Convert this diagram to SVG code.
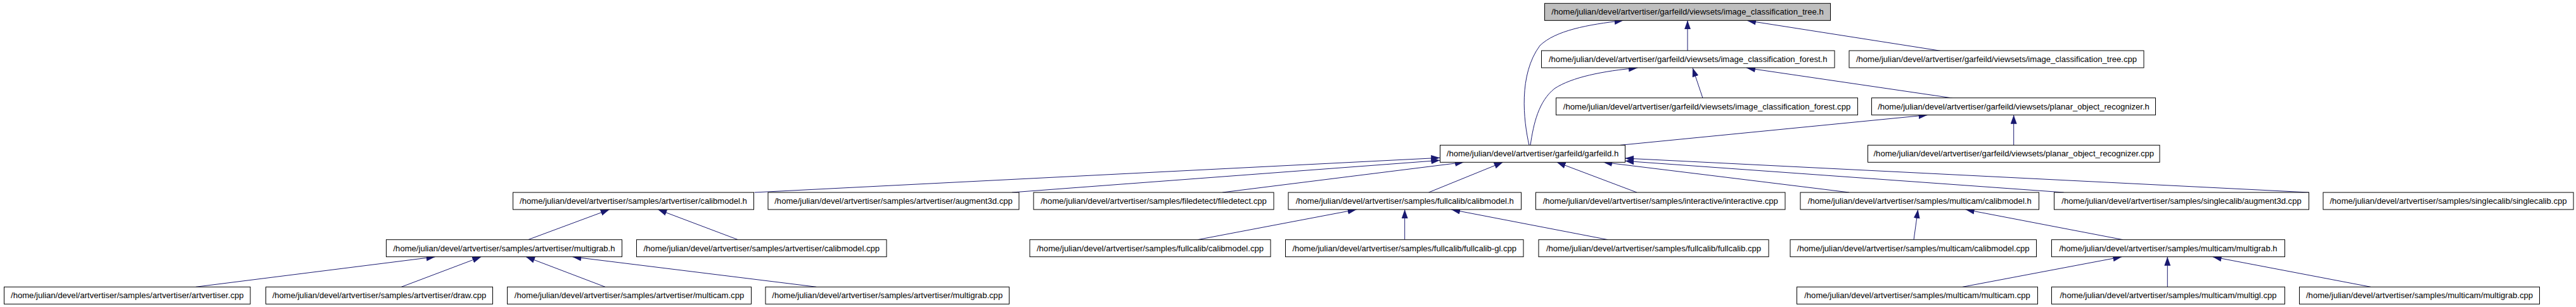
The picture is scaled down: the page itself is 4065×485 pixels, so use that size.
<svg xmlns="http://www.w3.org/2000/svg" width="4065" height="485" viewBox="0 0 4065 485">
<style>
.n rect{fill:#ffffff;stroke:#000000;stroke-width:1}
.n.root rect{fill:#bfbfbf}
.n text{font-family:"Liberation Sans",Arial,Helvetica,sans-serif;font-size:13.1px;fill:#000000;text-anchor:middle}
#edges path{fill:none;stroke:#191970;stroke-width:1;marker-end:url(#arr)}
</style>
<defs>
<marker id="arr" markerUnits="userSpaceOnUse" markerWidth="15" markerHeight="11" refX="14" refY="5" orient="auto">
<path d="M0,0 L14,5 L0,10 Z" fill="#191970"/>
</marker>
</defs>
<rect x="0" y="0" width="4065" height="485" fill="#ffffff"/>
<g id="edges">
<path d="M2663,80.3 L2663,32.3"/>
<path d="M3062,80.3 L2757,32.5"/>
<path d="M2413,229.3 C2404,190 2396,118 2430,72 C2455,48 2505,39 2561.7,32.3"/>
<path d="M2415,229.3 C2420,195 2428,160 2453,140 C2480,122 2530,112 2584,107.3"/>
<path d="M2687,155 L2671,107.3"/>
<path d="M3081,155 L2756,107.3"/>
<path d="M2557,229.3 L3041.5,181.7"/>
<path d="M3177.7,229.3 L3177.7,181.7"/>
<path d="M1190.6,304 L2272.3,249.3"/>
<path d="M1597,304 L2272.3,253.3"/>
<path d="M1929,304 L2310,256.3"/>
<path d="M2254.4,304 L2371.7,256.3"/>
<path d="M2583,304 L2456.7,256.3"/>
<path d="M2918,304 L2530,256.3"/>
<path d="M3256.7,304 L2564.3,254.3"/>
<path d="M3643.4,304 L2564.3,250"/>
<path d="M833.3,378.7 L961.7,331"/>
<path d="M1164.6,378.7 L1038.3,331"/>
<path d="M1889.9,378.7 L2140.6,331"/>
<path d="M2216.7,378.7 L2216.7,331"/>
<path d="M2537.4,378.7 L2290.2,331"/>
<path d="M3020,378.7 L3026.6,331"/>
<path d="M3350,378.7 L3101.7,331"/>
<path d="M309,453.3 L686.7,405.7"/>
<path d="M633.3,453.3 L759.3,405.7"/>
<path d="M955,453.3 L830,405.7"/>
<path d="M1288.2,453.3 L903.3,405.7"/>
<path d="M3097,453.3 L3348.3,405.7"/>
<path d="M3420.3,453.3 L3420.3,405.7"/>
<path d="M3741,453.3 L3491.7,405.7"/>
</g>
<g id="n1" class="n root"><rect x="2437.5" y="5.33" width="451" height="27"/><text x="2663" y="23.1">/home/julian/devel/artvertiser/garfeild/viewsets/image_classification_tree.h</text></g>
<g id="n2" class="n"><rect x="2432.5" y="80" width="462.5" height="27"/><text x="2663.75" y="97.8">/home/julian/devel/artvertiser/garfeild/viewsets/image_classification_forest.h</text></g>
<g id="n3" class="n"><rect x="2918" y="80" width="465" height="27"/><text x="3150.5" y="97.8">/home/julian/devel/artvertiser/garfeild/viewsets/image_classification_tree.cpp</text></g>
<g id="n4" class="n"><rect x="2455.5" y="154.67" width="476" height="27"/><text x="2693.5" y="172.5">/home/julian/devel/artvertiser/garfeild/viewsets/image_classification_forest.cpp</text></g>
<g id="n5" class="n"><rect x="2953.5" y="154.67" width="448" height="27"/><text x="3177.5" y="172.5">/home/julian/devel/artvertiser/garfeild/viewsets/planar_object_recognizer.h</text></g>
<g id="n6" class="n"><rect x="2272.5" y="229.33" width="292" height="27"/><text x="2418.5" y="247.1">/home/julian/devel/artvertiser/garfeild/garfeild.h</text></g>
<g id="n7" class="n"><rect x="2947.5" y="229.33" width="460.5" height="27"/><text x="3177.75" y="247.1">/home/julian/devel/artvertiser/garfeild/viewsets/planar_object_recognizer.cpp</text></g>
<g id="n8" class="n"><rect x="809.5" y="304" width="380" height="27"/><text x="999.5" y="321.8">/home/julian/devel/artvertiser/samples/artvertiser/calibmodel.h</text></g>
<g id="n9" class="n"><rect x="1212" y="304" width="396" height="27"/><text x="1410" y="321.8">/home/julian/devel/artvertiser/samples/artvertiser/augment3d.cpp</text></g>
<g id="n10" class="n"><rect x="1631" y="304" width="379" height="27"/><text x="1820.5" y="321.8">/home/julian/devel/artvertiser/samples/filedetect/filedetect.cpp</text></g>
<g id="n11" class="n"><rect x="2033" y="304" width="367.5" height="27"/><text x="2216.75" y="321.8">/home/julian/devel/artvertiser/samples/fullcalib/calibmodel.h</text></g>
<g id="n12" class="n"><rect x="2423.5" y="304" width="393.5" height="27"/><text x="2620.25" y="321.8">/home/julian/devel/artvertiser/samples/interactive/interactive.cpp</text></g>
<g id="n13" class="n"><rect x="2841" y="304" width="376.5" height="27"/><text x="3029.25" y="321.8">/home/julian/devel/artvertiser/samples/multicam/calibmodel.h</text></g>
<g id="n14" class="n"><rect x="3241.5" y="304" width="402" height="27"/><text x="3442.5" y="321.8">/home/julian/devel/artvertiser/samples/singlecalib/augment3d.cpp</text></g>
<g id="n15" class="n"><rect x="3666" y="304" width="395" height="27"/><text x="3863.5" y="321.8">/home/julian/devel/artvertiser/samples/singlecalib/singlecalib.cpp</text></g>
<g id="n16" class="n"><rect x="609.5" y="378.67" width="372" height="27"/><text x="795.5" y="396.5">/home/julian/devel/artvertiser/samples/artvertiser/multigrab.h</text></g>
<g id="n17" class="n"><rect x="1004.5" y="378.67" width="394.5" height="27"/><text x="1201.75" y="396.5">/home/julian/devel/artvertiser/samples/artvertiser/calibmodel.cpp</text></g>
<g id="n18" class="n"><rect x="1625" y="378.67" width="380" height="27"/><text x="1815" y="396.5">/home/julian/devel/artvertiser/samples/fullcalib/calibmodel.cpp</text></g>
<g id="n19" class="n"><rect x="2028.5" y="378.67" width="375.5" height="27"/><text x="2216.25" y="396.5">/home/julian/devel/artvertiser/samples/fullcalib/fullcalib-gl.cpp</text></g>
<g id="n20" class="n"><rect x="2428" y="378.67" width="363" height="27"/><text x="2609.5" y="396.5">/home/julian/devel/artvertiser/samples/fullcalib/fullcalib.cpp</text></g>
<g id="n21" class="n"><rect x="2825" y="378.67" width="388.5" height="27"/><text x="3019.25" y="396.5">/home/julian/devel/artvertiser/samples/multicam/calibmodel.cpp</text></g>
<g id="n22" class="n"><rect x="3237.5" y="378.67" width="368" height="27"/><text x="3421.5" y="396.5">/home/julian/devel/artvertiser/samples/multicam/multigrab.h</text></g>
<g id="n23" class="n"><rect x="6.5" y="453.33" width="388.5" height="27"/><text x="200.75" y="471.1">/home/julian/devel/artvertiser/samples/artvertiser/artvertiser.cpp</text></g>
<g id="n24" class="n"><rect x="419.5" y="453.33" width="358" height="27"/><text x="598.5" y="471.1">/home/julian/devel/artvertiser/samples/artvertiser/draw.cpp</text></g>
<g id="n25" class="n"><rect x="800.5" y="453.33" width="385" height="27"/><text x="993" y="471.1">/home/julian/devel/artvertiser/samples/artvertiser/multicam.cpp</text></g>
<g id="n26" class="n"><rect x="1208" y="453.33" width="384.5" height="27"/><text x="1400.25" y="471.1">/home/julian/devel/artvertiser/samples/artvertiser/multigrab.cpp</text></g>
<g id="n27" class="n"><rect x="2835.5" y="453.33" width="380" height="27"/><text x="3025.5" y="471.1">/home/julian/devel/artvertiser/samples/multicam/multicam.cpp</text></g>
<g id="n28" class="n"><rect x="3237.5" y="453.33" width="368" height="27"/><text x="3421.5" y="471.1">/home/julian/devel/artvertiser/samples/multicam/multigl.cpp</text></g>
<g id="n29" class="n"><rect x="3628.5" y="453.33" width="379" height="27"/><text x="3818" y="471.1">/home/julian/devel/artvertiser/samples/multicam/multigrab.cpp</text></g>
</svg>
